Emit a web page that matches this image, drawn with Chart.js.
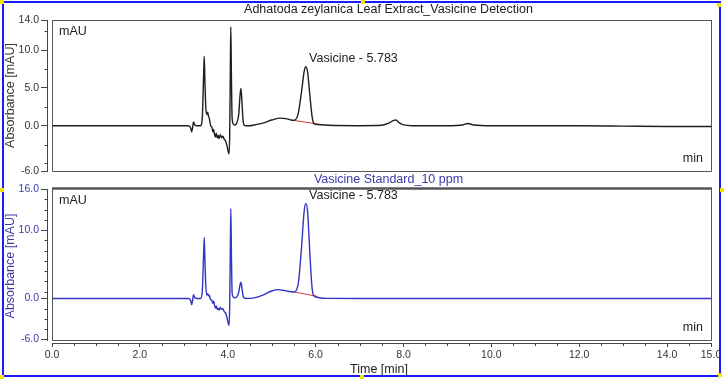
<!DOCTYPE html>
<html>
<head>
<meta charset="utf-8">
<script src="https://cdn.jsdelivr.net/npm/chart.js@4.4.1/dist/chart.umd.min.js"></script>
<style>
  html, body { margin: 0; padding: 0; background: #ffffff; }
  #wrap { position: relative; width: 724px; height: 379px; overflow: hidden; background: #fff; }
  canvas { position: absolute; left: 0; top: 0; }
  #frame { position: absolute; left: 2px; top: 1px; width: 715px; height: 372px; border: 2px solid #1a1aff; pointer-events: none; }
  .h { position: absolute; width: 4px; height: 4px; background: #f2e600; }
</style>
</head>
<body>
<div id="wrap">
  <div style="position:absolute;left:0;top:0;width:724px;height:180px"><canvas id="c1" width="724" height="180"></canvas></div>
  <div style="position:absolute;left:0;top:168px;width:724px;height:211px"><canvas id="c2" width="724" height="211"></canvas></div>
  <div id="frame"></div>
  <div class="h" style="left:0;top:0"></div>
  <div class="h" style="left:361px;top:0"></div>
  <div class="h" style="left:717px;top:3px"></div>
  <div class="h" style="left:0;top:188px"></div>
  <div class="h" style="left:720px;top:188px"></div>
  <div class="h" style="left:0;top:375px"></div>
  <div class="h" style="left:360px;top:375px"></div>
  <div class="h" style="left:718px;top:373px"></div>
</div>
<script>
// ---------------- DATA ----------------
const topTitle = "Adhatoda zeylanica Leaf Extract_Vasicine Detection";
const bottomTitle = "Vasicine Standard_10 ppm";
const peakLabel = "Vasicine - 5.783";
const peakTime = 5.783;

// Leaf extract chromatogram (time in min, absorbance in mAU)
const extractTimes = [0, 1.0, 2.0, 2.8, 3.1, 3.15, 3.18, 3.20, 3.22, 3.25, 3.30, 3.38, 3.42, 3.45, 3.465, 3.48, 3.50, 3.52, 3.545, 3.56, 3.58, 3.60, 3.62, 3.64, 3.66, 3.68, 3.70, 3.72, 3.74, 3.76, 3.78, 3.80, 3.83, 3.86, 3.89, 3.92, 3.95, 3.98, 4.01, 4.03, 4.045, 4.06, 4.07, 4.085, 4.10, 4.13, 4.16, 4.20, 4.25, 4.28, 4.30, 4.32, 4.345, 4.37, 4.42, 4.5, 4.6, 4.8, 5.0, 5.2, 5.35, 5.5, 5.6, 5.68, 5.74, 5.78, 5.82, 5.87, 5.92, 5.96, 6.05, 6.3, 7.0, 7.5, 7.65, 7.78, 7.83, 7.9, 8.0, 8.2, 9.0, 9.35, 9.46, 9.6, 10.0, 11.0, 12.0, 13.0, 14.0, 15.0];
const extractValues = [0, 0, 0, 0, 0, -0.2, -0.8, -0.3, 0.5, 0.1, 0.0, 0.0, 1.0, 6.5, 9.2, 6.0, 2.5, 1.5, 1.8, 1.3, 1.0, 0.3, -0.1, -0.2, -0.8, -0.5, -1.2, -1.5, -1.0, -1.6, -1.3, -1.7, -1.2, -1.6, -1.4, -1.8, -2.0, -2.6, -3.4, -3.75, -1.0, 8.0, 13.1, 6.0, 1.0, 0.2, 0.1, 0.3, 1.5, 4.0, 4.95, 3.5, 1.0, 0.1, 0.0, 0.0, 0.1, 0.35, 0.75, 1.0, 0.9, 0.7, 1.5, 4.5, 7.2, 7.8, 7.0, 4.0, 1.2, 0.3, 0.15, 0.05, 0, 0.05, 0.3, 0.7, 0.75, 0.4, 0.1, 0.0, 0.0, 0.1, 0.3, 0.1, 0.0, 0.0, 0.0, -0.05, -0.1, -0.1];
const extractBaseTimes = [5.46, 6.08];
const extractBaseValues = [0.75, 0.18];

// Vasicine standard chromatogram
const standardTimes = [0, 1.0, 2.0, 2.8, 3.1, 3.15, 3.18, 3.20, 3.22, 3.25, 3.30, 3.38, 3.42, 3.45, 3.465, 3.48, 3.50, 3.52, 3.545, 3.56, 3.58, 3.60, 3.62, 3.64, 3.66, 3.68, 3.70, 3.72, 3.74, 3.76, 3.78, 3.80, 3.83, 3.86, 3.89, 3.92, 3.95, 3.98, 4.01, 4.03, 4.045, 4.06, 4.07, 4.085, 4.10, 4.13, 4.16, 4.20, 4.25, 4.28, 4.30, 4.32, 4.345, 4.37, 4.42, 4.6, 4.8, 5.0, 5.15, 5.3, 5.5, 5.6, 5.68, 5.74, 5.78, 5.82, 5.87, 5.92, 5.96, 6.05, 6.25, 7.0, 9.0, 11.0, 13.0, 15.0];
const standardValues = [0, 0, 0, 0, 0, -0.2, -0.9, -0.3, 0.55, 0.1, 0.0, 0.0, 1.0, 6.3, 8.9, 5.8, 2.0, 0.5, 0.7, 0.4, 0.5, 0.0, -0.2, -0.3, -0.7, -0.4, -1.0, -1.4, -1.1, -1.6, -1.4, -1.7, -1.3, -1.6, -1.5, -1.9, -2.1, -2.7, -3.6, -3.95, -1.0, 8.0, 13.15, 6.0, 0.8, 0.2, 0.1, 0.2, 0.9, 2.0, 2.4, 1.7, 0.5, 0.1, 0.0, 0.1, 0.5, 1.1, 1.3, 1.15, 0.95, 2.0, 7.5, 12.8, 13.9, 12.5, 6.5, 1.5, 0.4, 0.15, 0.02, 0, 0, 0, 0, 0];
const standardBaseTimes = [5.47, 6.05];
const standardBaseValues = [1.0, 0.3];

// Tick labels
const xMajorTicks = [0, 2, 4, 6, 8, 10, 12, 14, 15];
const xMinorTicks = [0.5, 1, 1.5, 2.5, 3, 3.5, 4.5, 5, 5.5, 6.5, 7, 7.5, 8.5, 9, 9.5, 10.5, 11, 11.5, 12.5, 13, 13.5, 14.5];
const topYMajorTicks = [-6, 0, 5, 10, 14];
const topYMinorTicks = [-5, -2.5, 2.5, 7.5, 12.5];
const bottomYMajorTicks = [-6, 0, 10, 16];
const bottomYMinorTicks = [-4.5, -3, -1.5, 1, 2.5, 4, 5.5, 7, 8.5, 11.5, 13, 14.5];

// ---------------- STYLE ----------------
const FONT = "'Liberation Sans', Arial, Helvetica, sans-serif";
Chart.defaults.font.family = FONT;
const BLUE_TXT = '#3a3aa8';
const BLUE_LINE = '#3333c4';
const RED = '#d23a3a';
const FRAME = '#555555';

function pts(xs, ys) { return xs.map((x, i) => ({ x: x, y: ys[i] })); }

const decorPlugin = {
  id: 'decor',
  afterDatasetsDraw(chart, args, o) {
    const { ctx, chartArea } = chart;
    const x = chart.scales.x, y = chart.scales.y;
    const l = Math.round(x.getPixelForValue(0)), r = Math.round(x.getPixelForValue(15));
    const t = Math.round(y.getPixelForValue(o.yTop)), b = Math.round(y.getPixelForValue(o.yBottom));
    ctx.save();
    // frame
    ctx.strokeStyle = FRAME;
    ctx.lineWidth = 1;
    ctx.beginPath();
    ctx.moveTo(l + 0.5, b + 0.5); ctx.lineTo(r + 0.5, b + 0.5); ctx.lineTo(r + 0.5, t);
    ctx.moveTo(l + 0.5, t); ctx.lineTo(l + 0.5, b + 0.5);
    ctx.stroke();
    ctx.lineWidth = o.topWidth;
    const ty = o.topWidth > 1.5 ? t - 0.5 : t + 0.5;
    ctx.beginPath();
    ctx.moveTo(l, ty); ctx.lineTo(r + 1, ty);
    ctx.stroke();
    // y axis line (offset)
    ctx.strokeStyle = '#444';
    ctx.lineWidth = 1;
    const ax = Math.round(chartArea.left) + 0.5;
    ctx.beginPath(); ctx.moveTo(ax, t); ctx.lineTo(ax, b + 1); ctx.stroke();
    // y minor ticks
    ctx.beginPath();
    o.yMinor.forEach(v => { const p = Math.round(y.getPixelForValue(v)) + 0.5; ctx.moveTo(ax - 3, p); ctx.lineTo(ax, p); });
    ctx.stroke();
    if (o.xAxis) {
      const ay = Math.round(chartArea.bottom) + 0.5;
      ctx.beginPath(); ctx.moveTo(l, ay); ctx.lineTo(r + 1, ay); ctx.stroke();
      ctx.beginPath();
      xMinorTicks.forEach(v => { const p = Math.round(x.getPixelForValue(v)) + 0.5; ctx.moveTo(p, ay); ctx.lineTo(p, ay + 2.5); });
      ctx.stroke();
    }
    // panel title
    ctx.font = '12.5px ' + FONT;
    ctx.textBaseline = 'middle';
    ctx.textAlign = 'center';
    ctx.fillStyle = o.titleColor;
    ctx.fillText(o.title, (l + r) / 2 + 7, t - o.titleGap);
    // texts
    ctx.fillStyle = '#222';
    ctx.textAlign = 'left';
    ctx.fillText('mAU', l + 7, t + 12);
    ctx.textAlign = 'right';
    ctx.fillText('min', r - 8, b - 12);
    // peak label
    const ds = chart.data.datasets[0].data;
    let peakY = -Infinity;
    ds.forEach(p => { if (Math.abs(p.x - peakTime) < 0.1) peakY = Math.max(peakY, p.y); });
    ctx.textAlign = 'left';
    ctx.fillText(peakLabel, x.getPixelForValue(peakTime) + 3, y.getPixelForValue(peakY) - 8);
    ctx.restore();
  }
};

function makeChart(id, cfg) {
  return new Chart(document.getElementById(id), {
    type: 'line',
    data: {
      datasets: [
        { data: pts(cfg.times, cfg.values), borderColor: cfg.lineColor, borderWidth: 1.4, pointRadius: 0, cubicInterpolationMode: 'monotone', fill: false },
        { data: pts(cfg.baseTimes, cfg.baseValues), borderColor: RED, borderWidth: 1, pointRadius: 0, fill: false }
      ]
    },
    options: {
      responsive: false,
      animation: false,
      events: [],
      layout: { padding: { left: 0, right: 13, top: cfg.padTop, bottom: cfg.padBottom } },
      plugins: {
        legend: { display: false },
        tooltip: { enabled: false },
        title: { display: false },
        decor: { yTop: cfg.yMax, yBottom: -6, yMinor: cfg.yMinor, xAxis: cfg.xAxis, topWidth: cfg.topWidth, title: cfg.title, titleColor: cfg.titleColor, titleGap: cfg.titleGap }
      },
      scales: {
        x: {
          type: 'linear', min: -0.114, max: 15,
          display: cfg.xAxis,
          afterFit: s => { s.height = cfg.xHeight; },
          afterBuildTicks: s => { s.ticks = xMajorTicks.map(v => ({ value: v })); },
          border: { display: false },
          grid: { drawOnChartArea: false, drawTicks: true, tickLength: 4, tickColor: '#444' },
          ticks: { autoSkip: false, maxRotation: 0, padding: 2, color: '#333', font: { size: 10.5 }, callback: v => Number(v).toFixed(1) },
          title: { display: true, text: 'Time [min]', color: '#222', font: { size: 12.5 }, padding: { top: 0, bottom: 1.5 } }
        },
        y: {
          type: 'linear', position: 'left', min: cfg.yMin, max: cfg.yMax,
          afterFit: s => { s.width = 47; },
          afterBuildTicks: s => { s.ticks = cfg.yMajor.map(v => ({ value: v })); },
          border: { display: false },
          grid: { drawOnChartArea: false, drawTicks: true, tickLength: 6, tickColor: '#444' },
          ticks: { padding: 2, color: cfg.tickColor, font: { size: 10.5 }, callback: v => Number(v).toFixed(1) },
          title: { display: true, text: 'Absorbance [mAU]', color: cfg.tickColor, font: { size: 12.5 }, padding: { top: 3, bottom: 0 } }
        }
      }
    },
    plugins: [decorPlugin]
  });
}

makeChart('c1', {
  times: extractTimes, values: extractValues, baseTimes: extractBaseTimes, baseValues: extractBaseValues,
  lineColor: '#1e1e1e', title: topTitle, titleColor: '#222', padTop: 20, titleGap: 10,
  yMin: -6, yMax: 14, yMajor: topYMajorTicks, yMinor: topYMinorTicks, tickColor: '#333',
  xAxis: false, xHeight: 0, padBottom: 9, topWidth: 1
});
makeChart('c2', {
  times: standardTimes, values: standardValues, baseTimes: standardBaseTimes, baseValues: standardBaseValues,
  lineColor: BLUE_LINE, title: bottomTitle, titleColor: BLUE_TXT, padTop: 21, titleGap: 9.5,
  yMin: -6.5, yMax: 16, yMajor: bottomYMajorTicks, yMinor: bottomYMinorTicks, tickColor: BLUE_TXT,
  xAxis: true, xHeight: 36, padBottom: 0, topWidth: 2.5
});
</script>
</body>
</html>
